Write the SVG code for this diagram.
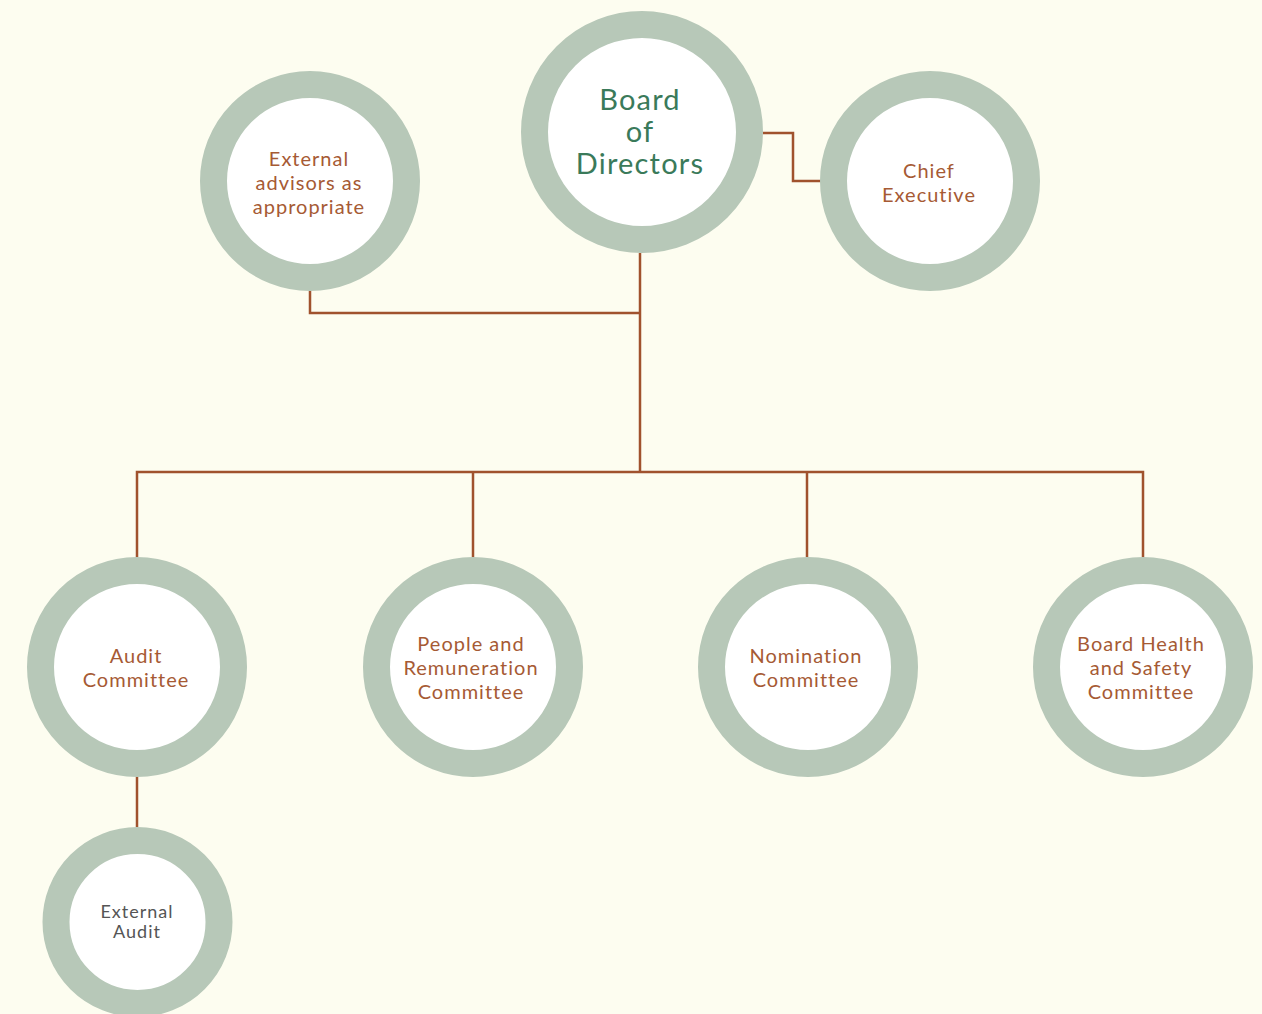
<svg xmlns="http://www.w3.org/2000/svg" width="1262" height="1014" viewBox="0 0 1262 1014">
<style>
.ring{fill:#ffffff;stroke:#b7c8b8}
.lbl{font-family:Lato,"Noto Sans",sans-serif;font-size:20px;letter-spacing:1px;fill:#a65a34;text-anchor:middle}
.big{font-family:Lato,"Noto Sans",sans-serif;font-size:29px;letter-spacing:1.2px;fill:#3a7a5a;text-anchor:middle}
.gray{font-family:Lato,"Noto Sans",sans-serif;font-size:18px;letter-spacing:1px;fill:#555555;text-anchor:middle}
.conn{fill:none;stroke:#a0522d;stroke-width:2.5}
</style>
<rect width="1262" height="1014" fill="#fdfdf0"/>
<g id="connectors">
<path class="conn" d="M640 253 V472"/>
<path class="conn" d="M137 557 V472 H1143 V557"/>
<path class="conn" d="M473 472 V557"/>
<path class="conn" d="M807 472 V557"/>
<path class="conn" d="M310 291 V313 H640"/>
<path class="conn" d="M763 133 H793 V181 H821"/>
<path class="conn" d="M137 777 V827"/>
</g>
<g id="board">
<circle class="ring" cx="642" cy="132" r="107.5" stroke-width="27"/>
<text class="big" x="640" y="110">Board</text>
<text class="big" x="640" y="142">of</text>
<text class="big" x="640" y="174">Directors</text>
</g>
<g id="advisors">
<circle class="ring" cx="310" cy="181" r="96.5" stroke-width="27"/>
<text class="lbl" x="309" y="166">External</text>
<text class="lbl" x="309" y="190">advisors as</text>
<text class="lbl" x="309" y="214">appropriate</text>
</g>
<g id="chief">
<circle class="ring" cx="930" cy="181" r="96.5" stroke-width="27"/>
<text class="lbl" x="929" y="178">Chief</text>
<text class="lbl" x="929" y="202">Executive</text>
</g>
<g id="audit">
<circle class="ring" cx="137" cy="667" r="96.5" stroke-width="27"/>
<text class="lbl" x="136" y="663">Audit</text>
<text class="lbl" x="136" y="687">Committee</text>
</g>
<g id="people">
<circle class="ring" cx="473" cy="667" r="96.5" stroke-width="27"/>
<text class="lbl" x="471" y="651">People and</text>
<text class="lbl" x="471" y="675">Remuneration</text>
<text class="lbl" x="471" y="699">Committee</text>
</g>
<g id="nomination">
<circle class="ring" cx="808" cy="667" r="96.5" stroke-width="27"/>
<text class="lbl" x="806" y="663">Nomination</text>
<text class="lbl" x="806" y="687">Committee</text>
</g>
<g id="health">
<circle class="ring" cx="1143" cy="667" r="96.5" stroke-width="27"/>
<text class="lbl" x="1141" y="651">Board Health</text>
<text class="lbl" x="1141" y="675">and Safety</text>
<text class="lbl" x="1141" y="699">Committee</text>
</g>
<g id="external-audit">
<circle class="ring" cx="137.5" cy="922" r="81.5" stroke-width="27"/>
<text class="gray" x="137" y="918">External</text>
<text class="gray" x="137" y="938">Audit</text>
</g>
</svg>
